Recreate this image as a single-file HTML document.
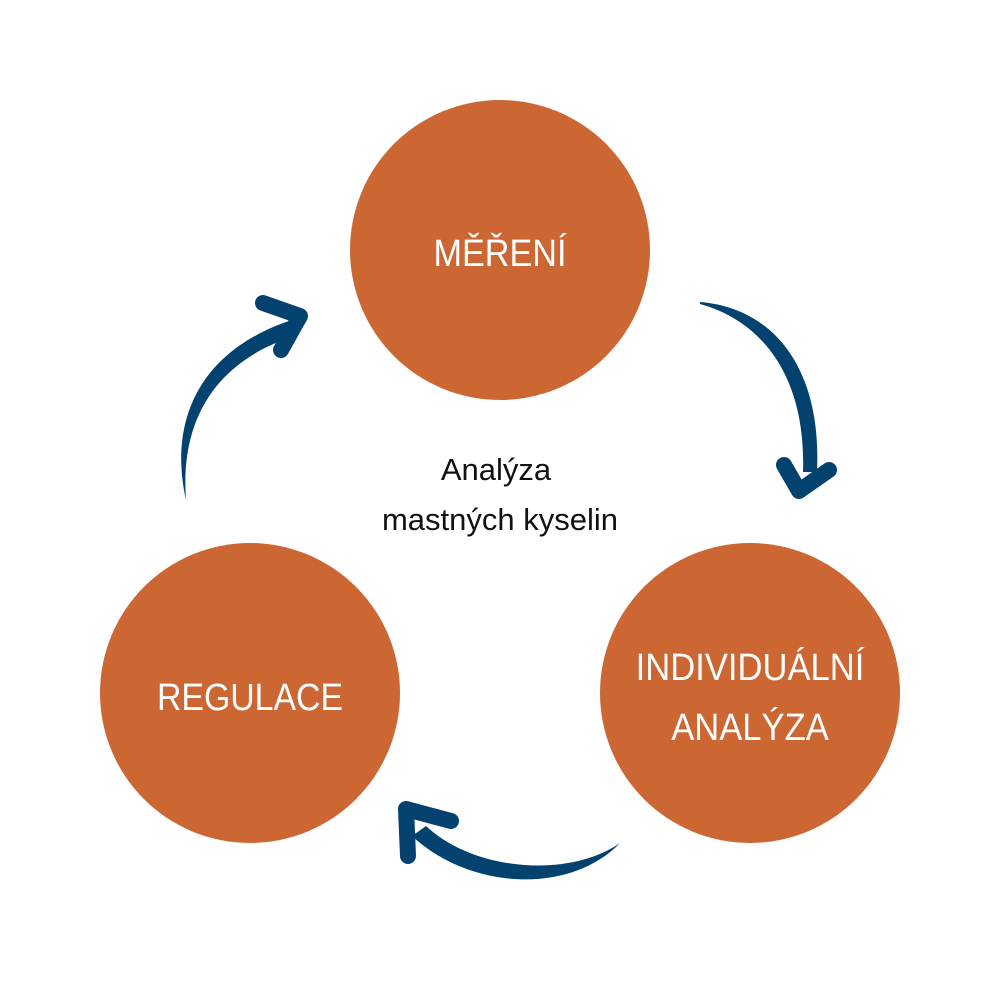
<!DOCTYPE html>
<html><head><style>
body{margin:0;background:#fff}
svg{display:block}
text{font-family:"Liberation Sans",sans-serif}
</style></head><body>
<svg width="1000" height="1000" viewBox="0 0 1000 1000">
<circle cx="500" cy="250" r="150" fill="#cc6633"/>
<circle cx="250" cy="693" r="150" fill="#cc6633"/>
<circle cx="750" cy="693" r="150" fill="#cc6633"/>
<g fill="#fff" font-size="38" text-anchor="middle">
<text transform="translate(500,266) scale(0.9,1)">MĚŘENÍ</text>
<text transform="translate(250,710) scale(0.89,1)">REGULACE</text>
<text transform="translate(750,680) scale(0.91,1)">INDIVIDUÁLNÍ</text>
<text transform="translate(750,740) scale(0.91,1)">ANALÝZA</text>
</g>
<g fill="#111" font-size="31" text-anchor="middle">
<text transform="translate(496,480)">Analýza</text>
<text transform="translate(500,530) scale(1.0,1)">mastných kyselin</text>
</g>
<g fill="#03426f">
<path d="M700,302 C775,308 822,370 817,472 L803,472 C806,380 765,322 700,304 Z"/>
<path d="M186,500 C168,420 200,350 292,320 L294,336 C215,362 180,420 186,500 Z"/>
<path d="M620,843 C570,895 470,890 412,836 L426,826 C475,872 570,878 620,843 Z"/>
</g>
<g fill="none" stroke="#03426f" stroke-width="16" stroke-linecap="round" stroke-linejoin="round">
<polyline points="784,465 799,491 829,470"/>
<polyline points="263,303 300,316 281,350"/>
<polyline points="408,856 406,809 451,821"/>
</g>
</svg>
</body></html>
